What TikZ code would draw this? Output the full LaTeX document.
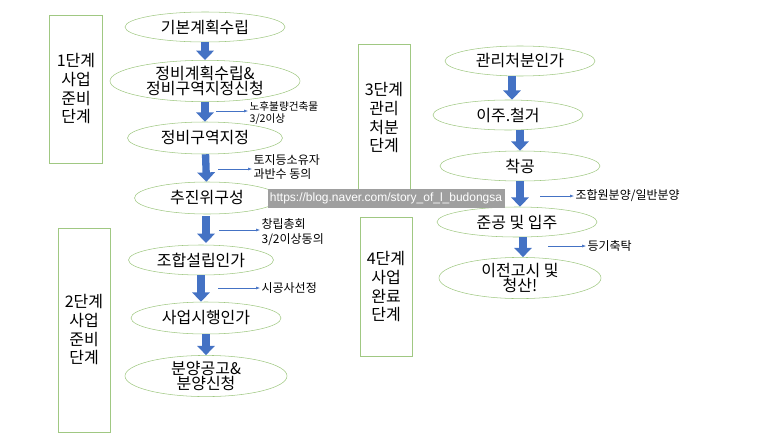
\documentclass[tikz,border=0pt]{standalone}
\usepackage{fontspec}
\setmainfont{Noto Sans CJK KR}
\newfontfamily\urlfont{Liberation Sans}
\usetikzlibrary{shapes.geometric,arrows.meta}
\definecolor{clrEllipse}{RGB}{160,200,130}
\definecolor{clrArrow}{RGB}{68,114,196}
\tikzstyle{step_ellipse}=[draw=clrEllipse, ellipse, inner sep=0pt, align=center, font=\large]
\tikzstyle{stage_box}=[draw=clrEllipse, rectangle, align=center, font=\large]
\tikzstyle{bigarrow}=[draw=clrArrow, line width=5.5pt, -{Triangle[width=13pt,length=7pt]}]
\tikzstyle{notearrow}=[draw=clrArrow, thin, -{Latex[length=3pt]}]
\tikzstyle{note}=[anchor=west, align=left, font=\footnotesize, inner sep=1pt]
\begin{document}
\begin{tikzpicture}[x=0.75pt,y=-0.75pt]
		\useasboundingbox (0,0) rectangle (773,435);

		% stage boxes
		\node[stage_box, minimum width=53*0.75pt, minimum height=148*0.75pt] (S1) at (76,89) {1단계\\사업\\준비\\단계};
		\node[stage_box, minimum width=52*0.75pt, minimum height=204*0.75pt] (S2) at (84,330) {2단계\\사업\\준비\\단계};
		\node[stage_box, minimum width=52*0.75pt, minimum height=147*0.75pt] (S3) at (384,118) {3단계\\관리\\처분\\단계};
		\node[stage_box, minimum width=52*0.75pt, minimum height=139*0.75pt] (S4) at (386,287) {4단계\\사업\\완료\\단계};

		% left column
		\node[step_ellipse, minimum width=160*0.75pt, minimum height=30*0.75pt] (A) at (205,27) {기본계획수립};
		\node[step_ellipse, minimum width=190*0.75pt, minimum height=40*0.75pt] (B) at (205,81) {정비계획수립\&\\[-3pt]정비구역지정신청};
		\node[step_ellipse, minimum width=155*0.75pt, minimum height=32*0.75pt] (C) at (205,138) {정비구역지정};
		\node[step_ellipse, minimum width=145*0.75pt, minimum height=32*0.75pt] (D) at (207,198) {추진위구성};
		\node[step_ellipse, minimum width=145*0.75pt, minimum height=30*0.75pt] (E) at (201,260) {조합설립인가};
		\node[step_ellipse, minimum width=150*0.75pt, minimum height=32*0.75pt] (F) at (206,318) {사업시행인가};
		\node[step_ellipse, minimum width=162*0.75pt, minimum height=40*0.75pt] (G) at (206,376) {분양공고\&\\[-3pt]분양신청};

		\draw[bigarrow] (A) -- (B);
		\draw[bigarrow] (B) -- (C);
		\draw[bigarrow] (C) -- (D);
		\draw[bigarrow] (206,216) -- (206,243);
		\draw[bigarrow] (E) -- (E|-F.north);
		\draw[bigarrow] (F) -- (G);

		% right column
		\node[step_ellipse, minimum width=150*0.75pt, minimum height=30*0.75pt] (H) at (520,61) {관리처분인가};
		\node[step_ellipse, minimum width=150*0.75pt, minimum height=30*0.75pt] (I) at (508,115) {이주.철거};
		\node[step_ellipse, minimum width=160*0.75pt, minimum height=30*0.75pt] (J) at (520,166) {착공};
		\node[step_ellipse, minimum width=160*0.75pt, minimum height=30*0.75pt] (K) at (517,222) {준공 및 입주};
		\node[step_ellipse, minimum width=162*0.75pt, minimum height=40*0.75pt] (L) at (520,278) {이전고시 및\\[-3pt]청산!};

		\draw[bigarrow] (H.south-|512,0) -- (I.north-|512,0);
		\draw[bigarrow] (I.south-|520,0) -- (J.north-|520,0);
		\draw[bigarrow] (J.south-|520,0) -- (K.north-|520,0);
		\draw[bigarrow] (K.south-|523,0) -- (L.north-|523,0);

		% notes
		\node[note] (n1) at (248,113) {노후불량건축물\\3/2이상};
		\draw[notearrow] (216,111) -- (n1.west|-0,111);
		\node[note, font=\small] (n2) at (252,167) {토지등소유자\\과반수 동의};
		\draw[notearrow] (218,169) -- (n2.west|-0,169);
		\node[note, font=\small] (n3) at (260,232) {창립총회\\3/2이상동의};
		\draw[notearrow] (219,230) -- (n3.west|-0,230);
		\node[note, font=\small] (n4) at (260,288) {시공사선정};
		\draw[notearrow] (218,288) -- (n4.west);
		\node[note, font=\small] (n5) at (574,196) {조합원분양/일반분양};
		\draw[notearrow] (540,196) -- (n5.west);
		\node[note, font=\small] (n6) at (586,246) {등기축탁};
		\draw[notearrow] (548,246) -- (n6.west);

		% watermark
		\node[fill=gray!75, text=white, font=\urlfont\small, minimum width=237*0.75pt, minimum height=19*0.75pt, inner sep=0pt] (W) at (386,198) {https://blog.naver.com/story\_of\_l\_budongsa};
	\end{tikzpicture}
\end{document}
